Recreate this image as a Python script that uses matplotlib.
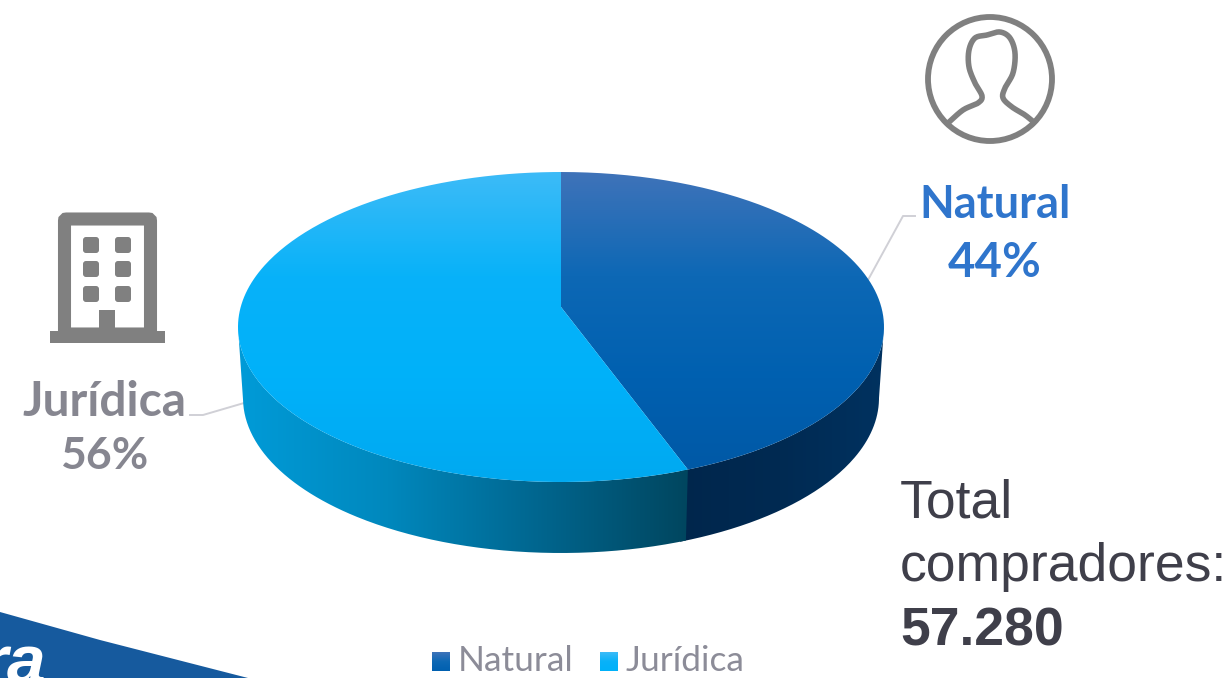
import numpy as np
import matplotlib
matplotlib.use('Agg')
import matplotlib.pyplot as plt
from matplotlib.colors import LinearSegmentedColormap
from matplotlib.patches import Circle, PathPatch, Polygon, Rectangle, FancyBboxPatch
from matplotlib.path import Path

categories = ['Natural', 'Jurídica']
shares = [44, 56]
total_label = '57.280'

top_colors = [['#3f73b9', '#0d68b5', '#0060b0', '#0058a5'],
              ['#3dbbf7', '#08b2f9', '#00b1fa', '#00a9f0']]
side_colors = [['#00264c', '#002a52', '#003260'],
               ['#009bd8', '#0088bd', '#00668f', '#00465f']]
label_colors = ['#2f75cc', '#868690']

fig = plt.figure(figsize=(12.32, 6.78), dpi=100)
ax = fig.add_axes([0, 0, 1, 1])


def gradient(colors, extent, clip, horizontal=False):
    cmap = LinearSegmentedColormap.from_list('g', colors)
    ramp = np.linspace(0, 1, 256)
    ramp = ramp.reshape(1, -1) if horizontal else ramp.reshape(-1, 1)
    im = ax.imshow(ramp, cmap=cmap, extent=extent, aspect='auto', origin='upper',
                   interpolation='bilinear', zorder=2)
    im.set_clip_path(PathPatch(clip, transform=ax.transData))


def smooth(points, n=12):
    # catmull-rom through the outline points
    pts = np.array(points, dtype=float)
    pts = np.vstack([pts[0], pts, pts[-1]])
    out = []
    for i in range(1, len(pts) - 2):
        for t in np.linspace(0, 1, n, endpoint=False):
            out.append(0.5 * (2 * pts[i] + (pts[i + 1] - pts[i - 1]) * t
                              + (2 * pts[i - 1] - 5 * pts[i] + 4 * pts[i + 1] - pts[i + 2]) * t ** 2
                              + (3 * pts[i] - pts[i - 1] - 3 * pts[i + 1] + pts[i + 2]) * t ** 3))
    out.append(pts[-2])
    return np.array(out)


# pie geometry, in pixels
cx, cy, rx, ry = 561, 327, 323, 155
apex = (561, 307)
depth, rx_low = 71, 318
k = 0.07  # perspective, slices are measured clockwise from the back


def param(frac):
    # ellipse parameter of the rim point for a share of the circle
    th = 2 * np.pi * frac
    u, v = np.sin(th), -np.cos(th)
    d = 1 - k * v
    return np.arctan2(u * np.sqrt(1 - k ** 2) / d, -(v - k) / d)


def rim(t):
    return np.column_stack([cx + rx * np.sin(t), cy - ry * np.cos(t)])


def low_rim(t):
    return np.column_stack([cx + rx_low * np.sin(t), cy + depth - ry * np.cos(t)])


split = param(shares[0] / sum(shares))

# side walls, the dark one runs on under the light one so no seam shows
t_right = np.linspace(np.pi / 2, split + 0.02, 100)
t_left = np.linspace(split, 3 * np.pi / 2, 200)
split_x = rim(np.array([split]))[0, 0]
wall_right = np.vstack([rim(t_right), low_rim(t_right)[::-1]])
wall_left = np.vstack([rim(t_left), low_rim(t_left)[::-1]])
gradient(side_colors[0], (split_x - 12, 884, 560, 300), Path(wall_right), horizontal=True)
gradient(side_colors[1], (238, split_x, 560, 300), Path(wall_left), horizontal=True)

# top surface
t_nat = np.linspace(0, split, 200)
t_jur = np.linspace(split, 2 * np.pi, 300)
slice_nat = np.vstack([[apex], rim(t_nat), [apex]])
slice_jur = np.vstack([[apex], rim(t_jur), [apex]])
gradient(top_colors[0], (238, 884, cy + ry, cy - ry), Path(slice_nat))
gradient(top_colors[1], (238, 884, cy + ry, cy - ry), Path(slice_jur))

# leader lines
ax.plot([868, 903, 915], [280, 216, 216], color='#d0d0d6', lw=1.4, zorder=1)
ax.plot([190, 203, 244], [415, 415, 403], color='#d0d0d6', lw=1.4, zorder=1)

# labels
for name, share, color, x, y1, y2, fs1, fs2 in zip(categories, shares, label_colors,
                                                   [995, 104], [218, 416], [277, 469],
                                                   [32.5, 34.5], [34, 32]):
    ax.text(x, y1, name, color=color, fontsize=fs1, fontweight='bold', family='Lato',
            ha='center', va='baseline', zorder=5)
    ax.text(x, y2, f'{share}%', color=color, fontsize=fs2, fontweight='bold', family='Lato',
            ha='center', va='baseline', zorder=5)

# total
ax.text(900, 518, 'Total', color='#3f3f4a', fontsize=38.5, family='Liberation Sans', zorder=5)
ax.text(900, 581, 'compradores:', color='#3f3f4a', fontsize=38.5, family='Liberation Sans', zorder=5)
ax.text(900, 645, total_label, color='#3f3f4a', fontsize=38.5, fontweight='bold',
        family='Liberation Sans', zorder=5)

# legend
for i, (name, x0) in enumerate(zip(categories, [432, 600])):
    swatch = Path([(x0, 652), (x0 + 18, 652), (x0 + 18, 671), (x0, 671), (x0, 652)])
    gradient(top_colors[i][:3], (x0, x0 + 18, 671, 652), swatch)
    ax.text(x0 + 26, 671, name, color='#8c8c98', fontsize=25.5, family='Lato',
            va='baseline', zorder=5)

# person icon
gray = '#808080'
ax.add_patch(Circle((990, 79), 62, fill=False, ec=gray, lw=4.2, zorder=5))
person = [(947, 124), (963, 110), (978, 103), (982, 96), (975, 83), (969, 67), (969, 50),
          (975, 38), (987, 35), (1000, 32), (1010, 38), (1015, 53), (1013, 73), (1005, 88),
          (1003, 98), (1012, 107), (1025, 115), (1036, 124)]
ax.add_patch(PathPatch(Path(smooth(person)), fill=False, ec=gray, lw=4, zorder=5))

# building icon
ax.add_patch(FancyBboxPatch((64.5, 219), 86, 115, boxstyle='round,pad=0,rounding_size=2',
                            fc='none', ec=gray, lw=9.4, zorder=5))
ax.add_patch(Rectangle((50, 331), 115, 12, fc=gray, ec='none', zorder=6))
ax.add_patch(Rectangle((99, 310), 16, 21, fc=gray, ec='none', zorder=6))
for wx in [83, 115]:
    for wy in [237, 261, 286]:
        ax.add_patch(FancyBboxPatch((wx + 3, wy + 3), 10, 10, boxstyle='round,pad=3',
                                    fc=gray, ec='none', zorder=6))

# corner banner
ax.add_patch(Polygon([(0, 612), (100, 640), (248, 678), (0, 678)],
                     fc='#165a9e', ec='none', zorder=3))
ax.text(46, 683, 'ra', color='white', fontsize=50, fontweight='bold', style='italic',
        family='Liberation Sans', ha='right', va='baseline', zorder=4, clip_on=True)

ax.set_xlim(0, 1232)
ax.set_ylim(678, 0)
ax.axis('off')
fig.savefig('out.png', dpi=100)
